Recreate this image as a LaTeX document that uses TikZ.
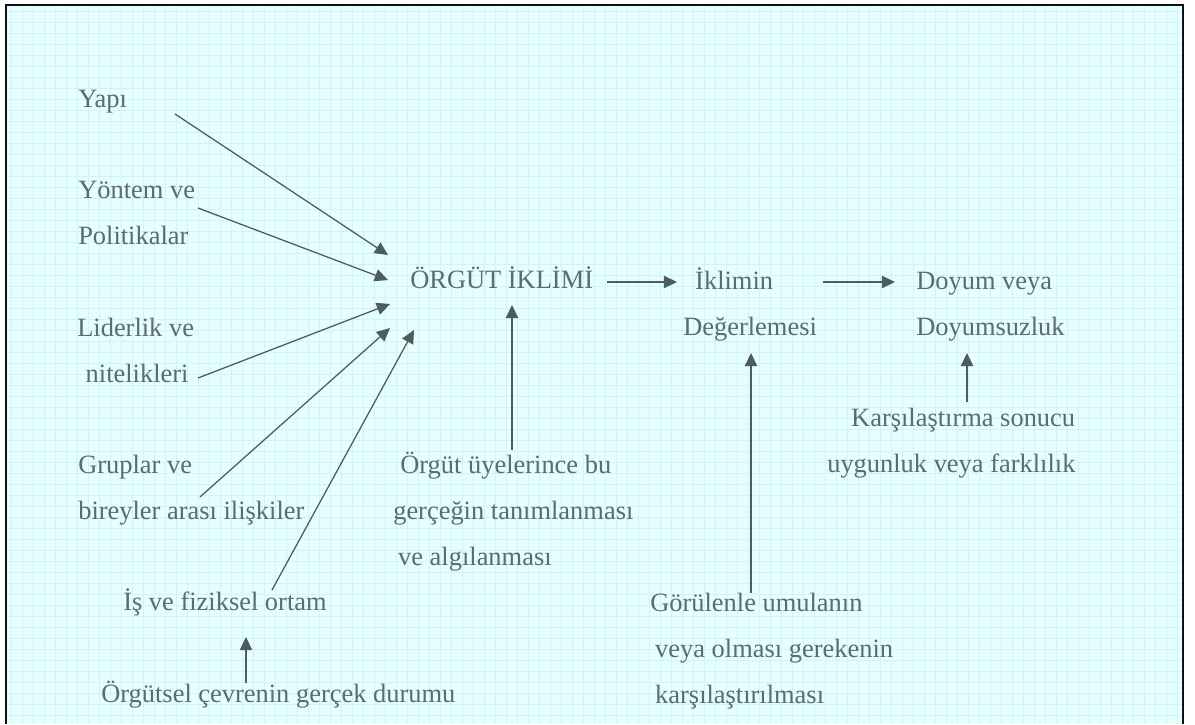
\documentclass[tikz,border=0pt]{standalone}
\usepackage{fontspec}
\setmainfont{Liberation Serif}
\usetikzlibrary{arrows.meta}
\definecolor{paper}{HTML}{E6FEFE}
\definecolor{gridline}{HTML}{CDF5F7}
\definecolor{ink}{HTML}{5C6B6B}
\definecolor{wire}{HTML}{4E5C5C}
\definecolor{frame}{HTML}{111111}
\tikzset{
  >={Triangle[length=3.3mm,width=3.1mm]},
  every node/.style={font=\fontsize{18.8}{32.7}\selectfont,text=ink},
  term/.style={anchor=base west,align=left,inner sep=0pt},
  arrow/.style={->,line width=0.9pt,draw=wire},
}

\begin{document}
\begin{tikzpicture}[x=0.025cm,y=-0.025cm]

\useasboundingbox (0,0) rectangle (1195,724);
\fill[white] (0,0) rectangle (1195,724);
\fill[paper] (6,5) rectangle (1183,724);
\draw[gridline,line width=0.3pt,step=0.275cm] (6,5) grid (1183,724);
\draw[frame,line width=2pt] (6,724) -- (6,5) -- (1183,5) -- (1183,724);

% inputs on the left (base = last line)
\node[term] (yapi) at (78,107) {Yapı};
\node[term] (yontem) at (78,244) {Yöntem ve\\Politikalar};
\node[term] (lider) at (77,382) {Liderlik ve\\\hspace*{6pt}nitelikleri};
\node[term] (grup) at (78,519) {Gruplar ve\\bireyler arası ilişkiler};
\node[term] (is) at (123,610) {İş ve fiziksel ortam};
\node[term] (cevre) at (101,702) {Örgütsel çevrenin gerçek durumu};

% main chain
\node[term] (iklim) at (410,288) {ÖRGÜT İKLİMİ};
\node[term] (deger) at (683,335) {\hspace*{8.5pt}İklimin\\Değerlemesi};
\node[term] (doyum) at (916,335) {Doyum veya\\Doyumsuzluk};

% notes below
\node[term] (uye) at (393,565) {\hspace*{5pt}Örgüt üyelerince bu\\gerçeğin tanımlanması\\\hspace*{3.5pt}ve algılanması};
\node[term] (gorulen) at (650,703) {Görülenle umulanın\\\hspace*{3.5pt}veya olması gerekenin\\\hspace*{3.5pt}karşılaştırılması};
\node[term] (karsi) at (827,472) {\hspace*{17pt}Karşılaştırma sonucu\\uygunluk veya farklılık};

% arrow ends
\coordinate (yapi-o) at (175,114);
\coordinate (yontem-o) at (198,208);
\coordinate (lider-o) at (198,378);
\coordinate (grup-o) at (200,497);
\coordinate (is-o) at (272,590);
\coordinate (iklim-1) at (388,255);
\coordinate (iklim-2) at (388,280);
\coordinate (iklim-3) at (390,304);
\coordinate (iklim-4) at (390,328);
\coordinate (iklim-5) at (414,330);
\coordinate (uye-o) at (512,450);
\coordinate (iklim-6) at (512,305);
\coordinate (iklim-o) at (607,282);
\coordinate (deger-i) at (677,282);
\coordinate (deger-o) at (823,282);
\coordinate (doyum-i) at (895,282);
\coordinate (gorulen-o) at (751,593);
\coordinate (deger-u) at (751,353);
\coordinate (karsi-o) at (967,402);
\coordinate (doyum-u) at (967,353);
\coordinate (cevre-o) at (246,683);
\coordinate (is-u) at (246,637);

\draw[arrow] (yapi-o) -- (iklim-1);
\draw[arrow] (yontem-o) -- (iklim-2);
\draw[arrow] (lider-o) -- (iklim-3);
\draw[arrow] (grup-o) -- (iklim-4);
\draw[arrow] (is-o) -- (iklim-5);
\draw[arrow] (uye-o) -- (iklim-6);
\draw[arrow] (iklim-o) -- (deger-i);
\draw[arrow] (deger-o) -- (doyum-i);
\draw[arrow] (gorulen-o) -- (deger-u);
\draw[arrow] (karsi-o) -- (doyum-u);
\draw[arrow] (cevre-o) -- (is-u);

\end{tikzpicture}
\end{document}
